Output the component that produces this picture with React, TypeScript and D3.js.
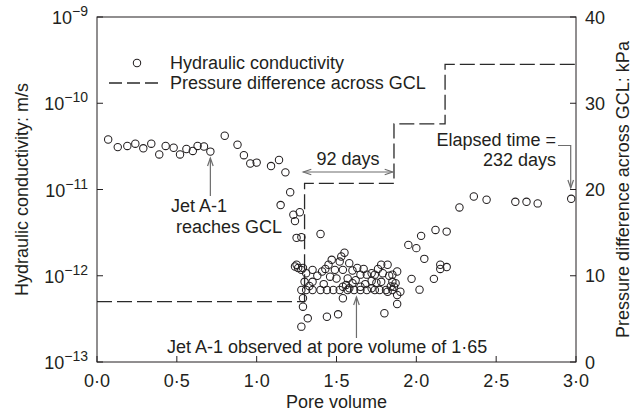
import React from "react";
import * as d3 from "d3";

// ---------- data ----------
const poreVolumes = [
  0.07, 0.13, 0.19, 0.24, 0.29, 0.34, 0.39, 0.43, 0.48, 0.52, 0.56, 0.6, 0.63, 0.67, 0.71,
  0.8, 0.88, 0.92, 0.96, 1.0, 1.09, 1.14, 1.18, 1.21, 1.15, 1.23, 1.27, 1.24, 1.25, 1.28, 1.4,
  1.24, 1.25, 1.26, 1.29, 1.28, 1.31, 1.35, 1.41, 1.45, 1.49, 1.52, 1.55, 1.58, 1.63, 1.65,
  1.69, 1.72, 1.74, 1.78, 1.82, 1.88, 1.85, 1.79, 1.5, 1.57, 1.62, 1.46, 1.54, 1.47, 1.53,
  1.35, 1.3, 1.85, 1.87, 1.78, 1.75,
  1.31, 1.35, 1.4, 1.44, 1.48, 1.52, 1.57, 1.61, 1.65, 1.69, 1.74, 1.77, 1.81, 1.85,
  1.54, 1.58, 1.65, 1.72, 1.82, 1.86, 1.9, 1.88, 1.28, 1.29, 1.54, 1.8, 1.88, 1.51, 1.44,
  1.32, 1.28, 1.29,
  1.43, 1.38, 1.6, 1.67, 1.76, 1.83, 1.42, 1.6, 1.68, 1.72, 1.84, 1.33, 1.56,
  1.95, 2.0, 2.03, 2.05, 1.97, 2.02, 2.12, 2.19, 2.15, 2.19, 2.15, 2.11,
  2.27, 2.36, 2.44, 2.62, 2.69, 2.76, 2.97,
];
const conductivities = [
  3.8e-11, 3.1e-11, 3.2e-11, 3.4e-11, 3.0e-11, 3.4e-11, 2.55e-11, 3.2e-11, 3.05e-11, 2.55e-11,
  2.95e-11, 2.8e-11, 3.2e-11, 3.15e-11, 2.75e-11,
  4.2e-11, 3.3e-11, 2.5e-11, 2.0e-11, 2.05e-11, 1.87e-11, 2.2e-11, 1.58e-11, 9.3e-12, 6.6e-12,
  5.1e-12, 5.45e-12, 4.3e-12, 2.75e-12, 2.8e-12, 3.05e-12,
  1.28e-12, 1.34e-12, 1.23e-12, 1.23e-12, 1.17e-12, 1.07e-12, 1.17e-12, 1.12e-12, 1.34e-12,
  1.17e-12, 1.46e-12, 1.85e-12, 1.4e-12, 1.23e-12, 1.03e-12,
  1.03e-12, 1.07e-12, 1.03e-12, 1.34e-12, 1.34e-12, 1.12e-12, 1.03e-12, 1.07e-12, 9.3e-13,
  9.3e-13, 8.9e-13, 9.75e-13, 1.17e-12, 1.53e-12, 1.67e-12,
  8.5e-13, 8.5e-13, 8.5e-13, 8.2e-13, 8.5e-13, 8.3e-13,
  6.84e-13, 6.84e-13, 6.84e-13, 6.84e-13, 6.84e-13, 6.84e-13, 6.84e-13, 6.84e-13, 6.84e-13,
  6.84e-13, 6.84e-13, 6.84e-13, 6.84e-13, 6.84e-13,
  7.46e-13, 7.15e-13, 7.46e-13, 7.15e-13, 6.53e-13, 7.46e-13, 6.53e-13, 5.98e-13, 6.84e-13,
  5.48e-13, 5.48e-13, 3.67e-13, 4.7e-13, 3.57e-13, 3.35e-13,
  3.21e-13, 2.57e-13, 4.38e-13,
  1.2e-12, 1.0e-12, 1.15e-12, 1.2e-12, 1.2e-12, 1.0e-12, 8.0e-13, 8.2e-13, 8.0e-13, 8.7e-13,
  7.5e-13, 7.6e-13, 7.8e-13,
  2.28e-12, 2.09e-12, 2.9e-12, 1.57e-12, 9.2e-13, 6.9e-13, 3.4e-12, 3.25e-12, 1.34e-12,
  1.26e-12, 1.2e-12, 9.2e-13,
  6.2e-12, 8.3e-12, 7.6e-12, 7.2e-12, 7.2e-12, 6.9e-12, 7.8e-12,
];

const pressurePV = [0, 1.3, 1.86, 2.18, 3.0];
const pressureKPa = [7, 20.7, 27.6, 34.5, 34.5];

const xTicks = [0, 0.5, 1.0, 1.5, 2.0, 2.5, 3.0];
const xTickLabels = ["0·0", "0·5", "1·0", "1·5", "2·0", "2·5", "3·0"];
const kTicks = [1e-13, 1e-12, 1e-11, 1e-10, 1e-9];
const kTickExponents = ["−13", "−12", "−11", "−10", "−9"];
const pTicks = [0, 10, 20, 30, 40];

// ---------- layout ----------
const W = 644;
const H = 417;
const L = 97, R = 576, T = 17, B = 362;
const FONT = "'Liberation Sans', Arial, Helvetica, sans-serif";
const INK = "#231f20";
const GREY = "#6d6d6d";

export default function App() {
  const x = d3.scaleLinear().domain([0, 3]).range([L, R]);
  const yK = d3.scaleLog().domain([1e-13, 1e-9]).range([B, T]);
  const yP = d3.scaleLinear().domain([0, 40]).range([B, T]);

  const pressureLine = d3
    .line<number>()
    .x((_, i) => x(pressurePV[i]))
    .y((d) => yP(d))
    .curve(d3.curveStepAfter)(pressureKPa) as string;

  const pts = poreVolumes.map((pv, i) => ({ pv, k: conductivities[i] }));

  const arrowHead = (tx: number, ty: number, dir: "up" | "down" | "left" | "right") => {
    const len = 8, hw = 2.8;
    let p = "";
    if (dir === "up") p = `M${tx - hw},${ty + len}L${tx},${ty}L${tx + hw},${ty + len}`;
    if (dir === "down") p = `M${tx - hw},${ty - len}L${tx},${ty}L${tx + hw},${ty - len}`;
    if (dir === "left") p = `M${tx + len},${ty - hw}L${tx},${ty}L${tx + len},${ty + hw}`;
    if (dir === "right") p = `M${tx - len},${ty - hw}L${tx},${ty}L${tx - len},${ty + hw}`;
    return <path d={p} fill="none" stroke={GREY} strokeWidth={1.2} />;
  };

  // annotation anchors
  const reachX = x(0.71);
  const obsX = x(1.625);
  const d92a = x(1.292), d92b = x(1.852), d92y = 172;
  const elapsedX = x(2.97);

  return (
    <svg width={W} height={H} style={{ display: "block", position: "absolute", left: 0, top: 0 }} fontFamily={FONT}>
      <rect width={W} height={H} fill="#fff" />

      {/* pressure step line */}
      <path d={pressureLine} fill="none" stroke="#2a2a2a" strokeWidth={1.3} strokeDasharray="15,5" />

      {/* data points */}
      {pts.map((p, i) => (
        <circle key={i} cx={x(p.pv)} cy={yK(p.k)} r={3.7} fill="none" stroke={INK} strokeWidth={1.05} />
      ))}

      {/* frame */}
      <rect x={L} y={T} width={R - L} height={B - T} fill="none" stroke={INK} strokeWidth={1} />

      {/* x ticks */}
      {xTicks.map((t, i) => (
        <g key={"x" + i}>
          <line x1={x(t)} x2={x(t)} y1={B} y2={B - 6} stroke={INK} />
          <text x={x(t)} y={387} textAnchor="middle" fontSize={18} fill={INK}>
            {xTickLabels[i]}
          </text>
        </g>
      ))}
      <text x={(L + R) / 2} y={408} textAnchor="middle" fontSize={18} fill={INK}>
        Pore volume
      </text>

      {/* left log ticks */}
      {kTicks.map((t, i) => (
        <g key={"k" + i}>
          <line x1={L} x2={L + 6} y1={yK(t)} y2={yK(t)} stroke={INK} />
          <text x={88} y={yK(t) + 7} textAnchor="end" fontSize={18} fill={INK}>
            <tspan>10</tspan>
            <tspan dy={-8} fontSize={14}>
              {kTickExponents[i]}
            </tspan>
          </text>
        </g>
      ))}
      <text
        transform={`translate(28,${(T + B) / 2}) rotate(-90)`}
        textAnchor="middle"
        fontSize={18}
        fill={INK}
      >
        Hydraulic conductivity: m/s
      </text>

      {/* right ticks */}
      {pTicks.map((t, i) => (
        <g key={"p" + i}>
          <line x1={R} x2={R - 6} y1={yP(t)} y2={yP(t)} stroke={INK} />
          <text x={585} y={yP(t) + 6.5} textAnchor="start" fontSize={18} fill={INK}>
            {t}
          </text>
        </g>
      ))}
      <text
        transform={`translate(629,${(T + B) / 2}) rotate(-90)`}
        textAnchor="middle"
        fontSize={18}
        fill={INK}
      >
        Pressure difference across GCL: kPa
      </text>

      {/* legend */}
      <circle cx={137} cy={63} r={3.7} fill="none" stroke={INK} strokeWidth={1.05} />
      <text x={170} y={69} fontSize={18} fill={INK}>
        Hydraulic conductivity
      </text>
      <line x1={109} x2={161} y1={83} y2={83} stroke="#2a2a2a" strokeWidth={1.3} strokeDasharray="13,5" />
      <text x={170} y={89} fontSize={18} fill={INK}>
        Pressure difference across GCL
      </text>

      {/* Jet A-1 reaches GCL */}
      <line x1={reachX} x2={reachX} y1={158} y2={196} stroke={GREY} strokeWidth={1.2} />
      {arrowHead(reachX, 158, "up")}
      <text x={171} y={212} fontSize={18} fill={INK}>
        Jet A-1
      </text>
      <text x={176} y={233} fontSize={18} fill={INK}>
        reaches GCL
      </text>

      {/* 92 days */}
      <line x1={d92a} x2={d92b} y1={d92y} y2={d92y} stroke={GREY} strokeWidth={1.2} />
      {arrowHead(d92a, d92y, "left")}
      {arrowHead(d92b, d92y, "right")}
      <text x={(d92a + d92b) / 2} y={165} textAnchor="middle" fontSize={18} fill={INK}>
        92 days
      </text>

      {/* Elapsed time */}
      <text x={556} y={146} textAnchor="end" fontSize={18} fill={INK}>
        Elapsed time =
      </text>
      <text x={556} y={166} textAnchor="end" fontSize={18} fill={INK}>
        232 days
      </text>
      <path
        d={`M558,145.5H${elapsedX - 0.5}V188`}
        fill="none"
        stroke={GREY}
        strokeWidth={1.2}
      />
      {arrowHead(elapsedX - 0.5, 188, "down")}

      {/* Jet A-1 observed */}
      <line x1={obsX} x2={obsX} y1={297} y2={338} stroke={GREY} strokeWidth={1.2} />
      {arrowHead(obsX, 297, "up")}
      <text x={167} y={353} fontSize={18} fill={INK}>
        Jet A-1 observed at pore volume of 1·65
      </text>
    </svg>
  );
}
